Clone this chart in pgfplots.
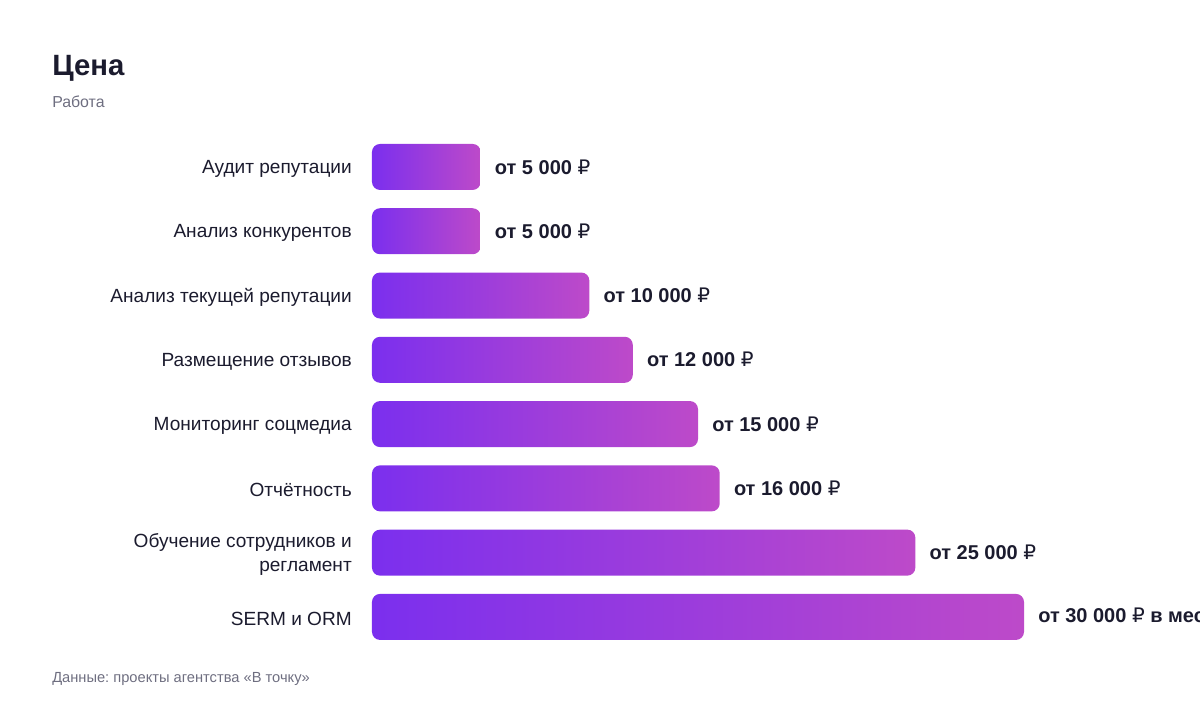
\documentclass[border=0pt]{standalone}
\usepackage{fontspec}
\setmainfont{Liberation Sans}
\newfontfamily\rubfont{DejaVu Sans}
\usepackage{pgfplots}
\usepackage{pgfplotstable}
\pgfplotsset{compat=1.18}
\frenchspacing

\definecolor{barL}{HTML}{7B2FEE}
\definecolor{barR}{HTML}{BD4AC9}
\definecolor{ink}{HTML}{1B1B2E}
\definecolor{muted}{HTML}{6E6E80}
\protected\def\rub{{\rubfont\mdseries ₽}}

% price per service, rows top to bottom
\pgfplotstableread[col sep=semicolon]{
idx;val;lab
0;5000;от 5 000 \rub
1;5000;от 5 000 \rub
2;10000;от 10 000 \rub
3;12000;от 12 000 \rub
4;15000;от 15 000 \rub
5;16000;от 16 000 \rub
6;25000;от 25 000 \rub
7;30000;от 30 000 \rub\ в месяц
}\prices

\begin{document}
\begin{tikzpicture}[x=0.75pt, y=-0.75pt]
\useasboundingbox (0,0) rectangle (1200,712);
\clip (0,0) rectangle (1200,712);

\node[anchor=base west, inner sep=0pt, text=ink, font=\bfseries\fontsize{22}{25}\selectfont] at (52,75.5) {Цена};
\node[anchor=base west, inner sep=0pt, text=muted, font=\fontsize{11.9}{14}\selectfont] at (52,107.5) {Работа};
\node[anchor=base west, inner sep=0pt, text=muted, font=\fontsize{11}{13}\selectfont] at (52,682) {Данные: проекты агентства «В точку»};

\begin{axis}[
  at={(279pt,-486.8pt)}, anchor=south west,
  scale only axis, width=489pt, height=385.7pt,
  xmin=0, xmax=30000, ymin=-0.5, ymax=7.5, y dir=reverse,
  axis line style={draw=none},
  xtick=\empty, ytick={0,...,7},
  major tick length=0pt,
  yticklabels={Аудит репутации, Анализ конкурентов, Анализ текущей репутации,
    Размещение отзывов, Мониторинг соцмедиа, Отчётность,
    {Обучение сотрудников и\\регламент}, SERM и ORM},
  yticklabel style={align=right, inner sep=0pt, xshift=-15pt, yshift=-1.5pt, text=ink,
    font=\fontsize{14.3}{18}\selectfont},
  clip=false,
]
% one plot per bar so each bar gets its own gradient
\pgfplotsinvokeforeach{0,...,7}{
  \addplot[xbar, bar shift=0pt, bar width=34.5pt, draw=none,
    left color=barL, right color=barR, rounded corners=6pt]
    table[x=val, y=idx, restrict y to domain=#1:#1] {\prices};
}
\addplot[draw=none, mark=none, nodes near coords, point meta=explicit symbolic,
  nodes near coords style={anchor=west, xshift=10.5pt, inner sep=0pt, text=ink,
    font=\bfseries\fontsize{15}{17}\selectfont}]
  table[x=val, y=idx, meta=lab] {\prices};
\end{axis}
\end{tikzpicture}
\end{document}
